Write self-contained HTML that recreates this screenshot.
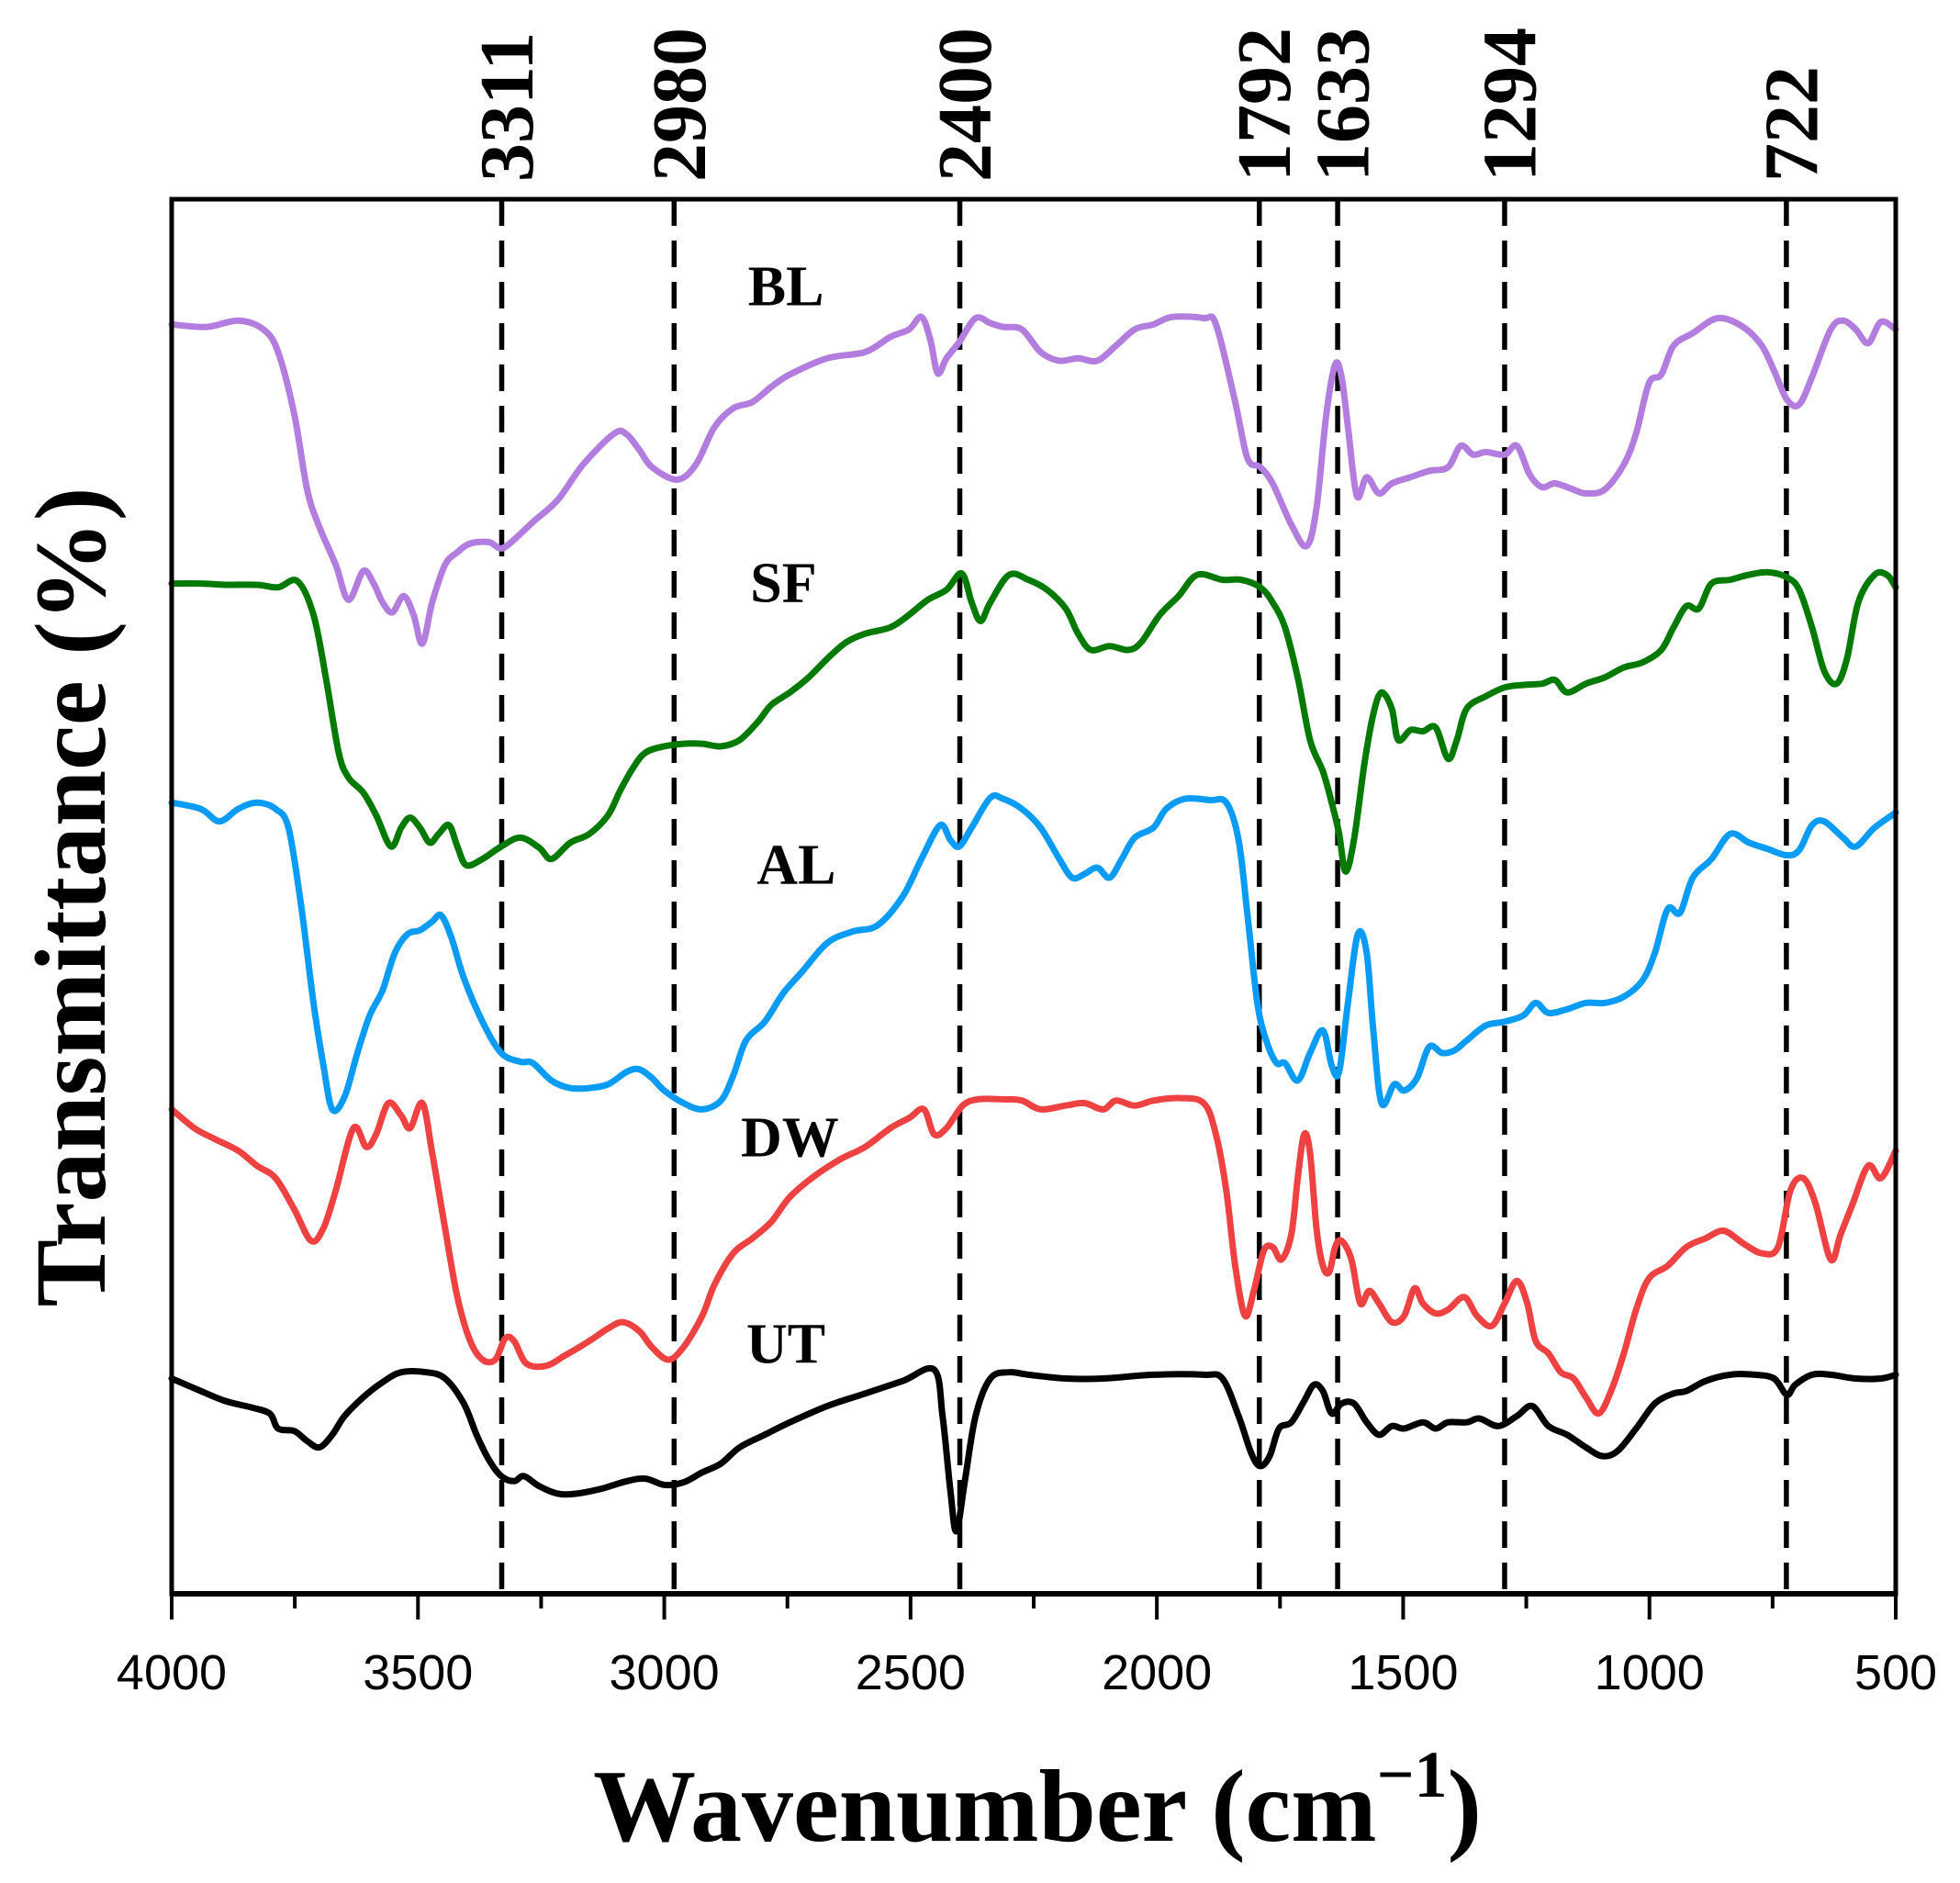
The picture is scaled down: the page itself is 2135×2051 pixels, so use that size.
<!DOCTYPE html>
<html><head><meta charset="utf-8"><style>
html,body{margin:0;padding:0;background:#fff}
svg{display:block}
text{font-family:"Liberation Serif",serif;font-weight:bold;fill:#000}
.tick{font-family:"Liberation Sans",sans-serif;font-weight:normal;font-size:54px}
</style></head><body>
<svg id="chart" width="2135" height="2051" viewBox="0 0 2135 2051" xmlns="http://www.w3.org/2000/svg">
</svg>
<script>
// ---- data (wavenumber in cm^-1, transmittance in arbitrary offset units) ----
const xTicks = [4000, 3500, 3000, 2500, 2000, 1500, 1000, 500];
const xMinorTicks = [3750, 3250, 2750, 2250, 1750, 1250, 750];
const peakPositions = [3330, 2980, 2400, 1792, 1633, 1294, 722];
const peakLabels = ["3311", "2980", "2400", "1792", "1633", "1294", "722"];
const seriesNames = ["BL", "SF", "AL", "DW", "UT"];

const blWn = [4000,3929,3865,3814,3784,3751,3725,3700,3667,3641,3611,3590,3572,3552,3529,3509,3491,3471,3445,3420,3394,3356,3331,3305,3267,3216,3165,3101,3076,3051,3025,2974,2936,2898,2860,2821,2783,2745,2669,2592,2541,2503,2478,2460,2445,2427,2401,2368,2338,2312,2274,2236,2198,2160,2121,2083,2045,2007,1969,1905,1880,1841,1816,1790,1765,1727,1696,1676,1656,1638,1625,1612,1594,1574,1549,1523,1485,1447,1409,1383,1358,1332,1294,1269,1243,1218,1192,1154,1129,1091,1052,1027,1001,976,951,912,861,810,772,747,721,696,670,632,607,581,556,530,500];
const blT = [1014,1012,1017,1010,992,942,882,852,822,794,817,807,792,784,797,782,759,792,822,832,839,840,835,842,856,874,902,927,926,914,900,890,902,932,947,952,964,974,987,992,1004,1010,1020,1002,975,987,1000,1019,1015,1012,1010,992,985,987,985,997,1010,1014,1020,1019,1014,952,907,900,887,854,837,867,942,982,972,932,877,892,879,887,892,897,900,917,910,912,910,917,894,884,887,882,879,882,902,927,967,974,997,1007,1019,1012,997,977,954,950,972,1010,1017,1010,999,1016,1010];

const sfWn = [4000,3941,3891,3827,3784,3745,3712,3687,3661,3641,3611,3585,3555,3534,3516,3496,3476,3458,3437,3420,3402,3369,3331,3292,3254,3229,3191,3152,3114,3089,3063,3038,3000,2961,2923,2885,2847,2809,2783,2745,2707,2669,2631,2592,2541,2503,2465,2427,2396,2376,2358,2338,2300,2261,2223,2185,2160,2134,2096,2058,2032,1994,1956,1918,1867,1829,1790,1765,1740,1714,1689,1663,1645,1630,1617,1600,1579,1561,1544,1523,1510,1485,1460,1434,1409,1391,1371,1332,1294,1256,1218,1192,1167,1129,1091,1052,1014,976,951,925,900,874,836,798,760,721,696,670,645,620,599,576,543,518,500];
const sfT = [807,807,806,806,804,809,782,732,672,652,640,622,597,612,620,612,600,607,614,597,582,587,597,604,596,587,600,607,622,642,660,672,677,679,679,677,682,697,710,720,732,747,760,767,772,782,794,802,815,792,777,792,814,810,802,787,767,754,757,754,760,782,797,814,810,810,804,792,772,732,682,657,632,607,577,602,662,702,720,707,682,690,689,692,667,682,707,717,724,726,727,730,720,727,732,740,744,754,772,789,787,807,810,814,816,812,802,772,737,727,747,792,814,814,804];

const alWn = [4000,3941,3903,3865,3827,3789,3763,3738,3712,3692,3674,3649,3623,3598,3572,3547,3521,3496,3471,3453,3432,3407,3369,3331,3292,3267,3229,3191,3152,3114,3076,3051,3025,3000,2961,2923,2885,2860,2834,2796,2758,2720,2669,2618,2567,2516,2478,2440,2419,2401,2376,2338,2312,2274,2236,2198,2172,2147,2121,2096,2071,2045,2007,1981,1943,1892,1859,1834,1816,1796,1778,1757,1740,1714,1689,1663,1645,1630,1612,1592,1574,1561,1544,1518,1498,1472,1447,1421,1396,1371,1332,1294,1256,1231,1205,1167,1129,1091,1052,1014,989,963,938,912,874,836,798,760,721,696,670,645,607,581,543,500];
const alT = [632,627,617,627,632,627,612,552,472,422,387,397,432,462,482,512,527,530,537,542,524,492,457,432,425,424,410,404,404,407,417,419,412,402,392,387,394,414,442,457,480,497,520,529,534,557,587,614,602,597,612,636,635,627,612,587,572,575,580,572,587,604,612,627,635,634,632,602,542,472,442,424,424,410,432,450,422,417,472,527,512,452,392,407,402,412,437,432,434,442,454,457,462,472,464,467,472,472,477,490,512,547,544,572,587,607,600,595,590,594,614,617,604,597,612,624];

const dwWn = [4000,3954,3916,3865,3827,3789,3751,3717,3692,3667,3631,3605,3585,3560,3534,3516,3491,3471,3445,3420,3394,3369,3343,3323,3305,3280,3241,3203,3152,3114,3084,3051,3025,2992,2961,2923,2898,2860,2821,2783,2745,2694,2643,2592,2541,2503,2473,2452,2427,2394,2363,2312,2274,2236,2185,2147,2109,2083,2045,2007,1956,1905,1880,1859,1841,1821,1803,1783,1765,1747,1727,1714,1701,1689,1676,1663,1650,1638,1625,1605,1587,1569,1549,1523,1498,1477,1460,1434,1409,1376,1350,1320,1294,1269,1248,1231,1205,1180,1154,1129,1103,1078,1052,1027,1001,963,925,886,849,810,772,739,714,688,663,632,612,587,556,530,500];
const dwT = [387,372,364,354,342,332,307,282,292,322,372,357,367,392,382,372,392,352,292,237,202,187,187,204,202,184,182,190,202,212,217,210,197,187,197,222,247,272,284,297,317,334,347,357,372,380,387,367,372,390,395,395,394,387,390,392,387,394,390,394,396,392,367,322,262,222,242,274,277,267,287,332,367,352,292,262,257,277,282,267,232,242,232,217,222,244,232,224,227,237,222,214,232,250,232,202,192,177,172,157,144,162,192,227,252,262,277,284,290,280,272,277,322,332,312,267,287,312,342,332,354];

const utWn = [4000,3941,3891,3840,3801,3784,3751,3725,3700,3674,3649,3611,3572,3534,3483,3445,3407,3381,3356,3331,3305,3285,3254,3216,3178,3127,3076,3038,3000,2961,2923,2885,2847,2796,2745,2669,2592,2516,2452,2435,2419,2407,2389,2368,2338,2300,2261,2185,2109,2007,1905,1867,1834,1808,1790,1771,1752,1727,1701,1681,1663,1645,1625,1600,1574,1549,1523,1498,1460,1434,1409,1371,1345,1307,1269,1238,1205,1167,1129,1096,1065,1027,989,951,925,886,836,786,747,721,704,670,632,581,530,500];
const utT = [172,162,154,149,144,132,130,122,117,127,142,157,169,177,177,172,152,127,107,94,90,94,86,80,80,84,90,92,87,89,97,104,117,127,137,150,160,170,179,142,82,50,92,142,172,177,175,172,172,175,175,172,142,112,102,110,132,137,154,167,162,144,152,152,137,127,134,132,137,132,137,137,140,134,142,150,134,127,117,110,114,132,152,160,162,170,175,175,172,159,167,175,175,172,172,175];

const seriesWn = [blWn, sfWn, alWn, dwWn, utWn];
const seriesT = [blT, sfT, alT, dwT, utT];
const seriesColors = ["#b37de0", "#047a04", "#0a9cf5", "#ee4242", "#000000"];
const labelWn = [2753, 2758, 2732, 2745, 2753];
const labelT = [1044, 807, 582, 364, 199];

// ---- axis functions ----
const L = 187, R = 2065, T0 = 217, B = 1736;
function xScale(wn) { return L + (4000 - wn) / 3500 * (R - L); }
function yScale(v) { return B - v * (B - T0) / 1114; }

const NS = "http://www.w3.org/2000/svg";
const svg = document.getElementById("chart");
function mk(tag, attrs, parent) {
  const e = document.createElementNS(NS, tag);
  for (const k in attrs) e.setAttribute(k, attrs[k]);
  (parent || svg).appendChild(e);
  return e;
}

// dashed peak lines
peakPositions.forEach((p, i) => {
  const x = xScale(p);
  const ln = mk("line", {x1: x, x2: x, y1: T0, y2: B, stroke: "#000", "stroke-width": 5.5, "stroke-dasharray": "29 16"});
  
  
  const t = mk("text", {x: x + 6, y: 198, "font-size": 84, "text-anchor": "start", "dominant-baseline": "central", transform: "rotate(-90 " + (x + 6) + " 198)"});
  t.textContent = peakLabels[i];
  
  
});

// smooth path via Catmull-Rom
function pathD(xs, ys) {
  const pts = xs.map((w, i) => [xScale(w), yScale(ys[i])]);
  let d = "M" + pts[0][0].toFixed(1) + "," + pts[0][1].toFixed(1);
  for (let i = 0; i < pts.length - 1; i++) {
    const p0 = pts[Math.max(0, i - 1)], p1 = pts[i], p2 = pts[i + 1], p3 = pts[Math.min(pts.length - 1, i + 2)];
    const c1x = p1[0] + (p2[0] - p0[0]) / 6, c1y = p1[1] + (p2[1] - p0[1]) / 6;
    const c2x = p2[0] - (p3[0] - p1[0]) / 6, c2y = p2[1] - (p3[1] - p1[1]) / 6;
    d += " C" + c1x.toFixed(1) + "," + c1y.toFixed(1) + " " + c2x.toFixed(1) + "," + c2y.toFixed(1) + " " + p2[0].toFixed(1) + "," + p2[1].toFixed(1);
  }
  return d;
}

seriesNames.forEach((n, i) => {
  const p = mk("path", {d: pathD(seriesWn[i], seriesT[i]), fill: "none", stroke: seriesColors[i], "stroke-width": 7, "stroke-linejoin": "round", "stroke-linecap": "round"});
  
  
  const t = mk("text", {x: xScale(labelWn[i]), y: yScale(labelT[i]), "font-size": 62, "text-anchor": "middle", "dominant-baseline": "central"});
  t.textContent = n;
  
  
});

// frame
const fr = mk("rect", {x: L, y: T0, width: R - L, height: B - T0, fill: "none", stroke: "#000", "stroke-width": 5});


const bx = mk("line", {x1: L - 2, x2: R + 2, y1: B, y2: B, stroke: "#000", "stroke-width": 6});



xTicks.forEach(v => {
  const x = xScale(v);
  const tk = mk("line", {x1: x, x2: x, y1: B, y2: B + 28, stroke: "#000", "stroke-width": 4});
  
  
  const t = mk("text", {x: x, y: 1840, "text-anchor": "middle", class: "tick"});
  t.textContent = v;
  
  
});
xMinorTicks.forEach(v => {
  const x = xScale(v);
  const tk = mk("line", {x1: x, x2: x, y1: B, y2: B + 16, stroke: "#000", "stroke-width": 4});
  
  
});

// axis titles
const xt = mk("text", {x: 1130, y: 2005, "font-size": 112, "text-anchor": "middle"});
xt.innerHTML = 'Wavenumber (cm<tspan dy="-48" font-size="72">−1</tspan><tspan dy="48">)</tspan>';


const yt = mk("text", {x: 77, y: 977, "font-size": 110, "text-anchor": "middle", "dominant-baseline": "central", transform: "rotate(-90 77 977)"});
yt.textContent = "Transmittance (%)";


</script>
</body></html>
